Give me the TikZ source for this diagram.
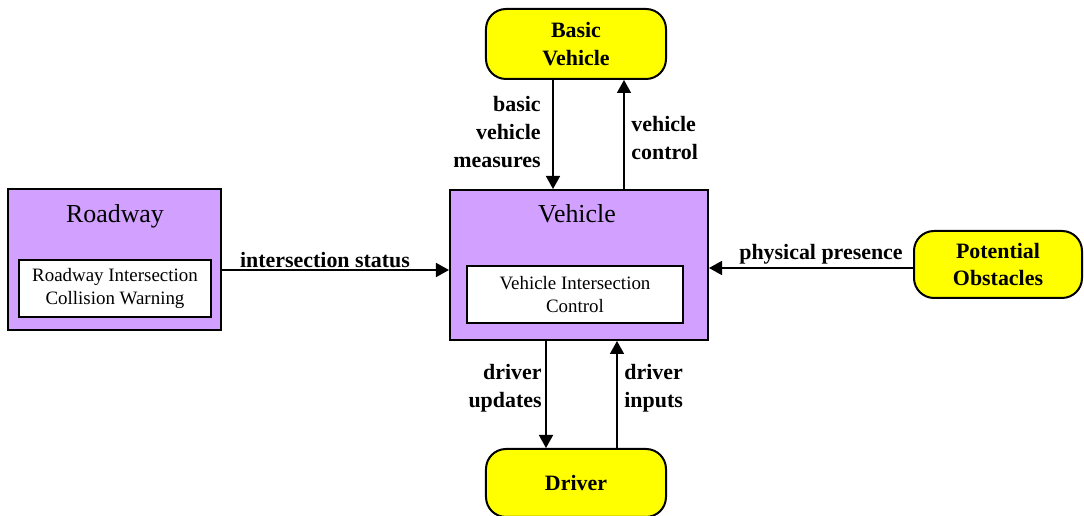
\documentclass[tikz,border=0pt]{standalone}
\usepackage{fontspec}
\setmainfont{Liberation Serif}
\usepackage{tikz}
\usetikzlibrary{arrows.meta, positioning}
\definecolor{subsysPurple}{RGB}{210,160,255}
\definecolor{termYellow}{RGB}{255,255,0}

\begin{document}
\begin{tikzpicture}[x=0.5bp, y=-0.5bp,
    subsys/.style={draw, line width=1bp, fill=subsysPurple, inner sep=0pt},
    pkg/.style={draw, line width=0.8bp, fill=white, inner sep=0pt, align=center,
        font=\fontsize{9.5}{12}\selectfont},
    term/.style={draw, line width=1bp, fill=termYellow, rounded corners=10bp,
        inner sep=0pt, align=center, font=\fontsize{11}{14}\selectfont\bfseries},
    flow/.style={line width=0.8bp, -{Triangle[length=6.5bp, width=7bp]}},
    flowlabel/.style={font=\fontsize{11}{14}\selectfont\bfseries, inner sep=0pt}]
    \useasboundingbox (0,0) rectangle (1084,516);

    % Subsystems
    \node[subsys, minimum width=106.5bp, minimum height=70.5bp] (road) at (114.5,259.5) {};
    \node[font=\fontsize{13}{15}\selectfont] (roadTitle) at (115,216) {Roadway};
    \node[pkg, minimum width=96bp, minimum height=28.5bp] (rics) at (115,288.5)
        {Roadway Intersection\\Collision Warning};

    \node[subsys, minimum width=129bp, minimum height=75bp] (vehicle) at (579,265) {};
    \node[font=\fontsize{13}{15}\selectfont] (vehTitle) at (577,214) {Vehicle};
    \node[pkg, minimum width=108bp, minimum height=28.5bp] (vic) at (575,294.5)
        {Vehicle Intersection\\Control};

    % Terminators
    \node[term, minimum width=90bp, minimum height=35bp] (basic) at (576,44) {Basic\\Vehicle};
    \node[term, minimum width=90bp, minimum height=34bp] (driver) at (576,483) {Driver};
    \node[term, minimum width=84bp, minimum height=33.5bp] (obst) at (998,264.5) {Potential\\Obstacles};

    % Flows
    \coordinate (bvm) at ([xshift=-11.5bp]basic.south);
    \coordinate (vc) at ([xshift=24bp]basic.south);
    \coordinate (du) at ([xshift=-15bp]driver.north);
    \coordinate (di) at ([xshift=20.5bp]driver.north);
    \coordinate (ist) at ([yshift=-5.25bp]road.east);
    \coordinate (pp) at ([yshift=-1.75bp]obst.west);

    \draw[flow] (bvm) -- (bvm |- vehicle.north);
    \draw[flow] (vc |- vehicle.north) -- (vc);
    \draw[flow] (du |- vehicle.south) -- (du);
    \draw[flow] (di) -- (di |- vehicle.south);
    \draw[flow] (ist) -- (ist -| vehicle.west);
    \draw[flow] (pp) -- (pp -| vehicle.east);

    % Flow labels
    \node[flowlabel, anchor=east, align=right] (bvmLabel) at (541,132) {basic\\vehicle\\measures};
    \node[flowlabel, anchor=west, align=left] (vcLabel) at (631,138) {vehicle\\control};
    \node[flowlabel] (istLabel) at (325,260) {intersection status};
    \node[flowlabel] (ppLabel) at (821,254) {physical presence};
    \node[flowlabel, anchor=east, align=right] (duLabel) at (542,388) {driver\\updates};
    \node[flowlabel, anchor=west, align=left] (diLabel) at (624,388) {driver\\inputs};
\end{tikzpicture}
\end{document}
